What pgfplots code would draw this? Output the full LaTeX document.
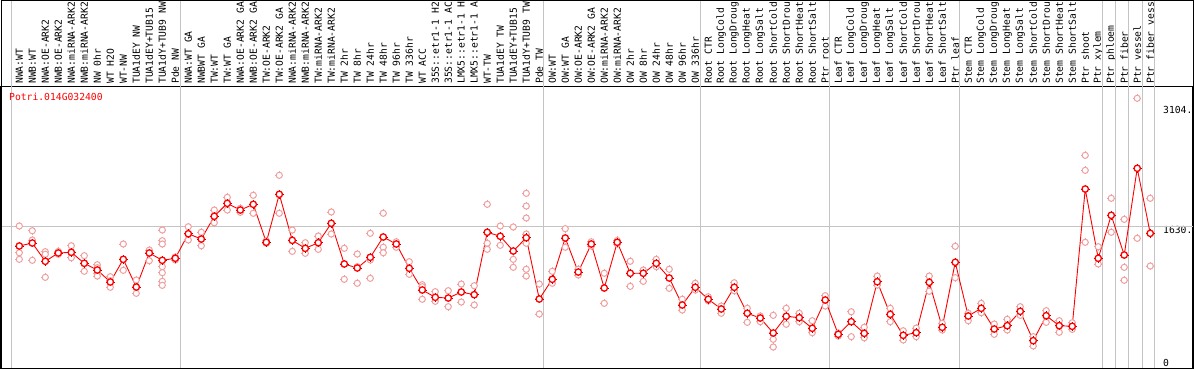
\documentclass[border=0pt]{standalone}
\usepackage{fontspec}
\usepackage{pgfplots}
\usepackage{pgfplotstable}
\pgfplotsset{compat=1.18}
\newfontfamily\mono{DejaVu Sans Mono}
\newcommand{\lab}{\mono\fontsize{9.7}{10}\selectfont}
\definecolor{rep}{HTML}{F0A0A0}
\definecolor{gline}{HTML}{C4C4C4}

\pgfplotstableread{
x y
1 1387
2 1423
3 1199
4 1301
5 1309
6 1174
7 1092
8 945
9 1223
10 883
11 1301
12 1211
13 1236
14 1537
15 1472
16 1751
17 1910
18 1828
19 1898
20 1432
21 2021
22 1456
23 1358
24 1427
25 1665
26 1166
27 1117
28 1248
29 1497
30 1411
31 1113
32 847
33 757
34 748
35 822
36 789
37 1555
38 1506
39 1325
40 1488
41 736
42 978
43 1485
44 1067
45 1411
46 871
47 1432
48 1052
49 1052
50 1174
51 994
52 663
53 880
54 733
55 614
56 880
57 561
58 503
59 319
60 524
61 507
62 377
63 724
64 303
65 458
66 315
67 948
68 548
69 291
70 323
71 941
72 389
73 1187
74 528
75 622
76 368
77 409
78 585
79 225
80 531
81 409
82 401
83 2086
84 1236
85 1763
86 1276
87 2340
88 1542
}\means

\pgfplotstableread{
x y
1 1632
1 1304
1 1223
2 1574
2 1460
2 1211
3 1317
3 1285
3 1002
4 1309
4 1285
4 1320
5 1390
5 1243
6 1268
6 1076
6 1174
7 1157
7 1120
7 1052
7 1018
8 1010
8 880
8 960
9 1411
9 1223
9 1088
10 969
10 806
11 1337
11 1206
12 1583
12 1452
12 1411
12 1133
12 1059
12 953
12 904
13 1252
13 1215
14 1623
14 1460
15 1555
15 1390
16 1828
16 1672
17 1984
17 1828
18 1800
18 1849
19 2009
19 1788
20 1452
20 1420
21 2254
21 1788
22 1583
22 1321
23 1427
23 1297
24 1509
24 1346
25 1804
25 1534
26 1358
26 978
27 1288
27 929
27 1133
28 1542
28 1215
28 990
29 1788
29 1371
29 1304
30 1439
30 1371
31 1194
31 1039
32 912
32 733
32 887
33 826
33 708
34 838
34 642
35 920
35 699
36 899
36 663
37 1898
37 1420
37 1346
38 1632
38 1395
39 1620
39 1223
39 1125
40 2033
40 1877
40 1730
40 1534
40 1420
40 1101
40 1018
41 920
41 552
42 1076
42 929
43 1599
43 1371
44 1101
44 1031
45 1439
45 1387
46 1052
46 683
47 1454
47 1411
48 1199
48 892
49 1092
49 953
50 1223
50 1133
51 1101
51 867
52 733
52 601
53 929
53 847
54 764
54 715
55 650
55 561
56 936
56 838
57 622
57 450
58 528
58 458
59 536
59 242
59 147
60 622
60 426
61 561
61 458
62 470
62 323
63 777
63 650
64 319
64 282
65 580
65 274
66 389
66 261
67 1018
67 908
68 622
68 458
69 347
69 233
70 380
70 274
71 1018
71 831
72 438
72 356
73 1383
73 998
74 470
74 561
75 683
75 568
76 429
76 303
77 487
77 356
78 642
78 536
79 274
79 160
80 593
80 450
81 470
81 328
82 445
82 364
83 2499
83 2315
83 1432
84 1378
84 1166
85 1972
85 1555
86 1714
86 1125
86 966
87 3199
87 1481
88 1972
88 1141
}\reps

\begin{document}
\begin{tikzpicture}
\useasboundingbox (0,0) rectangle (1194pt,370pt);
\clip (0,0) rectangle (1194pt,370pt);
\begin{axis}[
  at={(1pt,2pt)}, anchor=south west,
  scale only axis, width=1192pt, height=282pt,
  xmin=-0.408, xmax=91.29, ymin=-110.4, ymax=3350,
  axis line style={black, line width=1pt},
  xtick={1,...,88},
  xticklabels={NWA:WT,NWB:WT,NWA:OE-ARK2,NWB:OE-ARK2,NWA:miRNA-ARK2,NWB:miRNA-ARK2,NW 0hr,WT H2O,WT-NW,TUA1dEY NW,TUA1dEY+TUB15,TUA1dY+TUB9 NW,Pde NW,NWA:WT GA,NWBWT GA,TW:WT,TW:WT GA,NWA:OE-ARK2 GA,NWB:OE-ARK2 GA,TW:OE-ARK2,TW:OE-ARK2 GA,NWA:miRNA-ARK2,NWB:miRNA-ARK2,TW:miRNA-ARK2,TW:miRNA-ARK2,TW 2hr,TW 8hr,TW 24hr,TW 48hr,TW 96hr,TW 336hr,WT ACC,35S::etr1-1 H2,35S::etr1-1 AC,LMX5::etr1-1 H,LMX5::etr1-1 A,WT-TW,TUA1dEY TW,TUA1dEY+TUB15,TUA1dY+TUB9 TW,Pde TW,OW:WT,OW:WT GA,OW:OE-ARK2,OW:OE-ARK2 GA,OW:miRNA-ARK2,OW:miRNA-ARK2,OW 2hr,OW 8hr,OW 24hr,OW 48hr,OW 96hr,OW 336hr,Root CTR,Root LongCold,Root LongDroug,Root LongHeat,Root LongSalt,Root ShortCold,Root ShortDrou,Root ShortHeat,Root ShortSalt,Ptr root,Leaf CTR,Leaf LongCold,Leaf LongDroug,Leaf LongHeat,Leaf LongSalt,Leaf ShortCold,Leaf ShortDrou,Leaf ShortHeat,Leaf ShortSalt,Ptr leaf,Stem CTR,Stem LongCold,Stem LongDroug,Stem LongHeat,Stem LongSalt,Stem ShortCold,Stem ShortDrou,Stem ShortHeat,Stem ShortSalt,Ptr shoot,Ptr xylem,Ptr phloem,Ptr fiber,Ptr vessel,Ptr fiber vess},
  xticklabel pos=upper,
  xticklabel style={font=\lab, rotate=90, anchor=west, inner xsep=2pt, inner ysep=0pt},
  ytick={0,1630,3104}, yticklabels={0,1630.,3104.},
  yticklabel pos=right,
  yticklabel style={font=\lab, anchor=north west, inner sep=0pt, xshift=-30pt},
  major tick length=0pt,
  clip=false,
]
\pgfplotsinvokeforeach{0.36,13.36,41.36,53.4,63.36,73.36,84.36,85.36,86.36,87.44,88.36}{
  \draw[gline, line width=0.9pt] (axis cs:#1,-110.4) -- (axis cs:#1,4600);
}
\draw[gline, line width=0.9pt] (axis cs:-0.408,1630) -- (axis cs:91.29,1630);
\node[anchor=north west, inner sep=0pt, text=red, font=\lab] at ([xshift=8pt,yshift=-7pt]rel axis cs:0,1) {Potri.014G032400};
% replicates
\addplot[only marks, mark=+, mark size=4.1pt, rep, line width=0.6pt] table[x=x,y=y] {\reps};
\addplot[only marks, mark=*, mark size=3.1pt, draw=rep, fill=white, line width=1pt] table[x=x,y=y] {\reps};
% means
\addplot[red, line width=0.9pt, no marks] table[x=x,y=y] {\means};
\addplot[only marks, mark=+, mark size=4.3pt, red!70!black, line width=0.7pt] table[x=x,y=y] {\means};
\addplot[only marks, mark=*, mark size=3.2pt, draw=red, fill=white, line width=1.3pt] table[x=x,y=y] {\means};
\end{axis}
\draw[black, line width=1pt] (1pt,2pt) rectangle (1193pt,369.5pt);
\end{tikzpicture}
\end{document}
